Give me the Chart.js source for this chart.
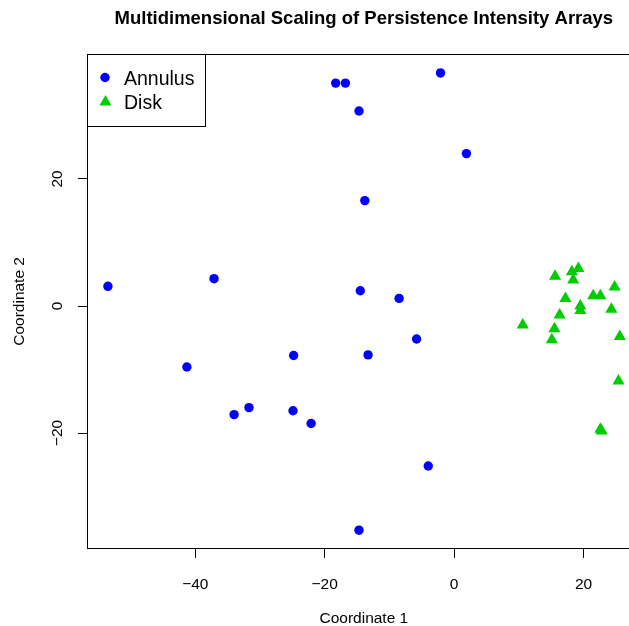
<!DOCTYPE html>
<html>
<head>
<meta charset="utf-8">
<title>Multidimensional Scaling of Persistence Intensity Arrays</title>
<style>
    html, body {
        margin: 0;
        padding: 0;
        background: #fff;
        overflow: hidden;
    }

    #wrap {
        width: 629px;
        height: 626px;
        overflow: hidden;
    }
</style>
</head>
<body>
<div id="wrap"><canvas id="mds" width="660" height="626"></canvas></div>

<script src="https://cdn.jsdelivr.net/npm/chart.js@4"></script>
<script>
// MDS coordinates
var annulusX = [-53.5, -41.3, -37.1, -34.0, -31.7, -24.8, -24.9, -22.1, -18.3, -16.8,
                -14.7, -13.8, -14.5, -13.3, -14.7, -8.5, -5.8, -4.0, -2.1, 1.9];
var annulusY = [3.1, -9.6, 4.3, -17.1, -16.0, -7.8, -16.5, -18.5, 35.1, 35.1,
                30.7, 16.6, 2.4, -7.7, -35.3, 1.2, -5.2, -25.2, 36.7, 24.0];

var diskX = [10.6, 15.6, 18.2, 19.2, 18.4, 24.8, 17.2, 21.5, 22.6, 19.5,
             19.5, 24.3, 16.3, 15.5, 15.1, 25.6, 25.4, 22.6, 22.8];
var diskY = [-3.0, 4.7, 5.4, 5.9, 4.1, 3.0, 1.2, 1.6, 1.6, 0.0,
             -0.7, -0.5, -1.4, -3.6, -5.3, -4.8, -11.8, -19.4, -19.7];

var xTicks = [-40, -20, 0, 20];
var yTicks = [-20, 0, 20];

var seriesNames = ['Annulus', 'Disk'];
var seriesColors = ['#0000FF', '#00CD00'];

function toPoints(xs, ys) {
    return xs.map(function (x, i) { return { x: x, y: ys[i] }; });
}

function minusLabel(v) {
    return v < 0 ? '\u2212' + Math.abs(v) : String(v);
}

var FONT = "'Liberation Sans', Arial, Helvetica, sans-serif";
Chart.defaults.font.family = FONT;
Chart.defaults.color = '#000';

// box round the plot region plus an R style legend in the top left corner
var frame = {
    id: 'frame',
    afterDraw: function (chart) {
        var a = chart.chartArea;
        var ctx = chart.ctx;
        ctx.save();
        ctx.strokeStyle = '#000';
        ctx.lineWidth = 1;
        ctx.strokeRect(Math.round(a.left) + 0.5, Math.round(a.top) + 0.5,
                       Math.round(a.right - a.left), Math.round(a.bottom - a.top));

        var lx = Math.round(a.left) + 0.5, ly = Math.round(a.top) + 0.5;
        ctx.fillStyle = '#fff';
        ctx.fillRect(lx, ly, 118, 72);
        ctx.strokeRect(lx, ly, 118, 72);

        // circle
        ctx.fillStyle = seriesColors[0];
        ctx.beginPath();
        ctx.arc(105, 77.5, 4.7, 0, Math.PI * 2);
        ctx.fill();
        // triangle
        var r = 7, cx = 105.5, cy = 102;
        ctx.fillStyle = seriesColors[1];
        ctx.beginPath();
        ctx.moveTo(cx, cy - r);
        ctx.lineTo(cx + r * Math.sqrt(3) / 2, cy + r / 2);
        ctx.lineTo(cx - r * Math.sqrt(3) / 2, cy + r / 2);
        ctx.closePath();
        ctx.fill();

        ctx.fillStyle = '#000';
        ctx.font = '19.5px ' + FONT;
        ctx.textBaseline = 'alphabetic';
        ctx.textAlign = 'left';
        ctx.fillText(chart.data.datasets[0].label, 124, 85);
        ctx.fillText(chart.data.datasets[1].label, 124, 109);
        ctx.restore();
    }
};

var ctx = document.getElementById('mds').getContext('2d');
var mdsChart = new Chart(ctx, {
    type: 'scatter',
    data: {
        datasets: [{
            label: seriesNames[0],
            data: toPoints(annulusX, annulusY),
            pointStyle: 'circle',
            pointRadius: 4.7,
            pointHoverRadius: 4.7,
            backgroundColor: seriesColors[0],
            borderColor: seriesColors[0],
            borderWidth: 0
        }, {
            label: seriesNames[1],
            data: toPoints(diskX, diskY),
            pointStyle: 'triangle',
            pointRadius: 7,
            pointHoverRadius: 7,
            backgroundColor: seriesColors[1],
            borderColor: seriesColors[1],
            borderWidth: 0
        }]
    },
    options: {
        responsive: false,
        animation: false,
        events: [],
        layout: { padding: { left: 0, top: 0, right: 19.5, bottom: 0 } },
        plugins: {
            legend: { display: false },
            tooltip: { enabled: false },
            title: {
                display: true,
                text: 'Multidimensional Scaling of Persistence Intensity Arrays',
                fullSize: false,
                font: { size: 18.5, weight: 'bold', family: FONT },
                color: '#000',
                padding: { top: 7.9, bottom: 24.1 }
            }
        },
        scales: {
            x: {
                type: 'linear',
                min: -56.7,
                max: 28.8,
                afterBuildTicks: function (s) { s.ticks = xTicks.map(function (v) { return { value: v }; }); },
                afterFit: function (s) { s.height = 77.4; },
                border: { display: false },
                grid: { drawOnChartArea: false, drawTicks: true, tickLength: 9.3, color: '#000', tickColor: '#000' },
                ticks: {
                    padding: 17.5,
                    font: { size: 15.5 },
                    color: '#000',
                    maxRotation: 0,
                    callback: minusLabel
                },
                title: {
                    display: true,
                    text: 'Coordinate 1',
                    font: { size: 15.5, lineHeight: 1.0 },
                    color: '#000',
                    padding: { top: 0, bottom: 0 }
                }
            },
            y: {
                type: 'linear',
                min: -38.2,
                max: 39.65,
                afterBuildTicks: function (s) { s.ticks = yTicks.map(function (v) { return { value: v }; }); },
                afterFit: function (s) { s.width = 87.2; },
                border: { display: false },
                grid: { drawOnChartArea: false, drawTicks: true, tickLength: 9.3, color: '#000', tickColor: '#000' },
                ticks: {
                    padding: 7.4,
                    font: { size: 15.5 },
                    color: '#000',
                    minRotation: 90,
                    maxRotation: 90,
                    crossAlign: 'center',
                    callback: minusLabel
                },
                title: {
                    display: true,
                    text: 'Coordinate 2',
                    font: { size: 15.5 },
                    color: '#000',
                    padding: { top: 10.7, bottom: 0 }
                }
            }
        }
    },
    plugins: [frame]
});
</script>
</body>
</html>
